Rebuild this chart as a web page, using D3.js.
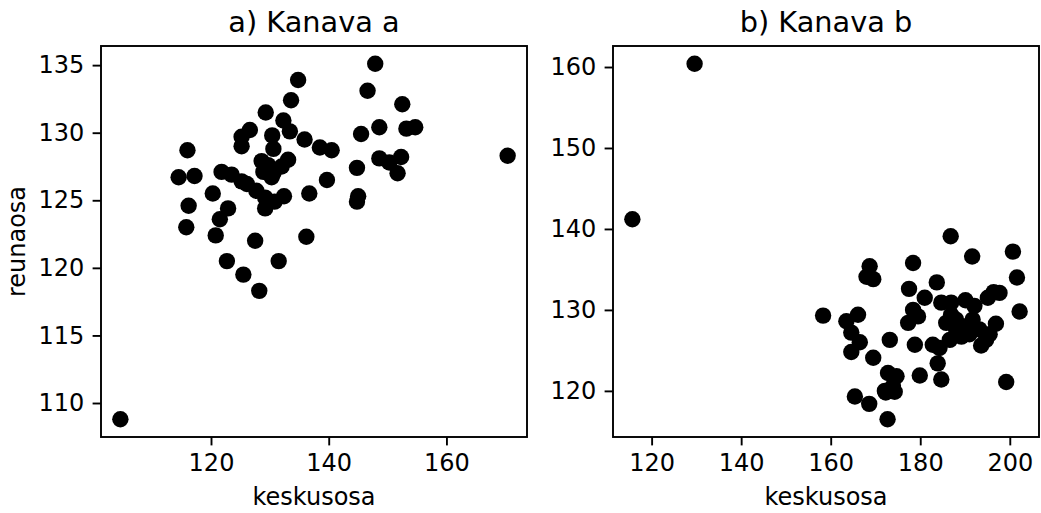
<!DOCTYPE html>
<html>
<head>
<meta charset="utf-8">
<script src="https://cdn.jsdelivr.net/npm/d3@7"></script>
<style>
  html, body { margin: 0; padding: 0; background: #fff; }
  svg { display: block; font-family: "DejaVu Sans", sans-serif; }
</style>
</head>
<body>
<svg id="chart" width="1041" height="513"></svg>
<script>
// Channel a: centre (keskusosa) vs edge (reunaosa) measurements
const aX = [147.9, 146.6, 134.8, 133.6, 152.5, 129.3, 132.3, 133.4, 135.9, 138.5,
            140.5, 148.6, 153.2, 154.7, 145.5, 148.6, 150.3, 152.3, 151.7, 144.8,
            139.7, 136.7, 145.0, 144.8, 136.2, 170.4, 126.6, 125.2, 125.2, 130.4,
            130.6, 133.1, 128.6, 128.9, 130.6, 130.3, 132.0, 116.0, 114.5, 117.2,
            121.8, 123.5, 125.2, 126.1, 127.7, 129.2, 129.2, 130.8, 132.4, 120.3,
            116.2, 122.9, 121.5, 115.8, 120.8, 127.5, 122.7, 125.5, 128.2, 131.5,
            104.6, 129.7];
const aY = [135.1, 133.1, 133.9, 132.4, 132.1, 131.5, 130.9, 130.1, 129.5, 128.9,
            128.7, 130.4, 130.3, 130.4, 129.9, 128.1, 127.8, 128.2, 127.0, 127.4,
            126.5, 125.5, 125.3, 124.9, 122.3, 128.3, 130.2, 129.7, 129.0, 129.8,
            128.8, 128.0, 127.9, 127.1, 127.0, 126.7, 127.5, 128.7, 126.7, 126.8,
            127.1, 126.9, 126.4, 126.2, 125.7, 125.2, 124.4, 124.9, 125.3, 125.5,
            124.6, 124.4, 123.6, 123.0, 122.4, 122.0, 120.5, 119.5, 118.3, 120.5,
            108.8, 127.6];

// Channel b
const bX = [129.6, 115.7, 168.7, 168.0, 169.5, 158.3, 166.1, 163.5, 164.6, 166.5,
            164.6, 169.5, 173.2, 172.8, 172.1, 173.9, 165.4, 168.6, 172.7, 186.8,
            191.6, 200.7, 201.6, 202.2, 178.4, 177.5, 181.0, 183.7, 184.7, 186.9,
            190.1, 192.1, 195.1, 197.7, 196.4, 178.4, 177.3, 179.5, 178.8, 182.8,
            184.3, 185.8, 188.0, 190.3, 189.2, 186.6, 191.7, 193.2, 194.7, 193.6,
            196.9, 195.5, 183.9, 184.7, 179.9, 199.2, 174.7, 172.3, 174.3, 188.0,
            191.0, 186.9];
const bY = [160.4, 141.2, 135.4, 134.1, 133.8, 129.3, 129.4, 128.6, 127.2, 126.0,
            124.8, 124.1, 126.3, 122.2, 120.0, 120.6, 119.3, 118.4, 116.5, 139.1,
            136.6, 137.2, 134.0, 129.8, 135.8, 132.6, 131.5, 133.4, 130.9, 130.9,
            131.2, 130.5, 131.5, 132.1, 132.2, 130.0, 128.4, 129.2, 125.7, 125.7,
            125.3, 128.4, 128.8, 128.0, 126.7, 126.3, 128.8, 127.6, 126.3, 125.6,
            128.3, 127.0, 123.4, 121.4, 121.9, 121.1, 121.8, 119.8, 119.9, 127.6,
            127.0, 129.4];

const titles = ["a) Kanava a", "b) Kanava b"];
const xLabel = "keskusosa";
const yLabel = "reunaosa";
const aXTicks = [120, 140, 160];
const aYTicks = [110, 115, 120, 125, 130, 135];
const bXTicks = [120, 140, 160, 180, 200];
const bYTicks = [120, 130, 140, 150, 160];

const svg = d3.select("#chart");
svg.append("rect").attr("width", 1041).attr("height", 513).attr("fill", "#fff");

const plotTop = 46, plotBottom = 437;
const tickLen = 8.4, tickPad = 8.4, lw = 1.9;
const R = 8.2;

// 5% margin around the data extent, like the default autoscaling
function padded(vals) {
  const [lo, hi] = d3.extent(vals);
  const m = (hi - lo) * 0.05;
  return [lo - m, hi + m];
}

function panel(left, right, xs, ys, xTicks, yTicks, title, showYLabel) {
  const x = d3.scaleLinear().domain(padded(xs)).range([left, right]);
  const y = d3.scaleLinear().domain(padded(ys)).range([plotBottom, plotTop]);
  const g = svg.append("g");

  // points
  g.append("g").selectAll("circle")
    .data(d3.range(xs.length))
    .join("circle")
    .attr("cx", i => x(xs[i]))
    .attr("cy", i => y(ys[i]))
    .attr("r", R)
    .attr("fill", "#000");

  // axes
  const xa = g.append("g").attr("transform", `translate(0,${plotBottom})`)
    .call(d3.axisBottom(x).tickValues(xTicks).tickFormat(d3.format("d"))
      .tickSize(tickLen).tickPadding(tickPad).tickSizeOuter(0));
  const ya = g.append("g").attr("transform", `translate(${left},0)`)
    .call(d3.axisLeft(y).tickValues(yTicks).tickFormat(d3.format("d"))
      .tickSize(tickLen).tickPadding(tickPad).tickSizeOuter(0));
  [xa, ya].forEach(a => {
    a.select(".domain").remove();
    a.selectAll(".tick line").attr("stroke", "#000").attr("stroke-width", lw);
    a.selectAll(".tick text").attr("fill", "#000")
      .style("font-size", "24px").style("font-family", "DejaVu Sans");
  });

  // frame
  g.append("rect")
    .attr("x", left).attr("y", plotTop)
    .attr("width", right - left).attr("height", plotBottom - plotTop)
    .attr("fill", "none").attr("stroke", "#000").attr("stroke-width", lw);

  // title
  g.append("text")
    .attr("x", (left + right) / 2).attr("y", 32)
    .attr("text-anchor", "middle")
    .style("font-size", "28.8px")
    .attr("fill", "#000")
    .text(title);

  // x label
  g.append("text")
    .attr("x", (left + right) / 2).attr("y", 505)
    .attr("text-anchor", "middle")
    .style("font-size", "24px")
    .attr("fill", "#000")
    .text(xLabel);

  if (showYLabel) {
    g.append("text")
      .attr("transform", `translate(25,${(plotTop + plotBottom) / 2}) rotate(-90)`)
      .attr("text-anchor", "middle")
      .style("font-size", "24px")
      .attr("fill", "#000")
      .text(yLabel);
  }
}

panel(101, 527, aX, aY, aXTicks, aYTicks, titles[0], true);
panel(613, 1039, bX, bY, bXTicks, bYTicks, titles[1], false);
</script>
</body>
</html>
